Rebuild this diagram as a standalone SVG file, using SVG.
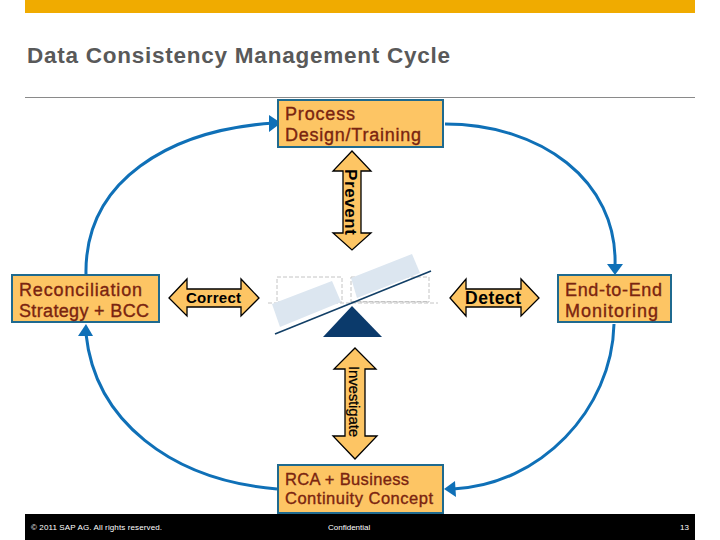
<svg xmlns="http://www.w3.org/2000/svg" width="720" height="540" viewBox="0 0 720 540">
<style>
text{font-family:"Liberation Sans",Arial,sans-serif}
.box{fill:#fdc564;stroke:#1f6a8f;stroke-width:2}
.lbl{font-size:18px;fill:#7a2410;stroke:#7a2410;stroke-width:.35}
.arr{fill:#fdc564;stroke:#000;stroke-width:1.3}
.al{font-weight:700;fill:#000}
.con{fill:none;stroke:#0f70b7;stroke-width:3}
.head{fill:#0f70b7}
.foot{font-size:8px;fill:#fff}
.dash{fill:none;stroke:#c4c4c4;stroke-width:1;stroke-dasharray:4 2}
</style>
<rect x="25" y="0" width="670" height="13" fill="#f0ab00"/>
<text x="27" y="63" font-weight="700" fill="#595959" style="font-size:22.500px" textLength="423">Data Consistency Management Cycle</text>
<rect x="25" y="97" width="670" height="1" fill="#8a8a8a"/>
<g id="connectors">
<path class="con" d="M274 123C170 130 84 180 86 275"/>
<path class="head" d="M269 115L281 123L269 132Z"/>
<path class="con" d="M445 124C540 124 618 180 615 266"/>
<path class="head" d="M607 264L623 264L615 275Z"/>
<path class="con" d="M614 324C612 410 540 485 453 489"/>
<path class="head" d="M455 481L444 489L456 497Z"/>
<path class="con" d="M277 489C170 480 95 420 86 334"/>
<path class="head" d="M78 336L86 324L93 336Z"/>
</g>
<g id="balance">
<rect x="277" y="277" width="65" height="25" class="dash"/>
<rect x="351" y="277" width="78" height="25" class="dash"/>
<path d="M268 303H438" class="dash"/>
<path d="M351 301.500H429" class="dash"/>
<path d="M272 304L332 281L341 302L280 327Z" fill="#dce6f0"/>
<path d="M351 278L412 254L420 273L357 298Z" fill="#dce6f0"/>
<path d="M275 334L431 271" stroke="#123f66" stroke-width="1.6" fill="none"/>
<path d="M352 306L382 337H323Z" fill="#0b3a6b"/>
</g>
<g id="process">
<rect class="box" x="278" y="100" width="165" height="47"/>
<text class="lbl" x="285" y="120" textLength="70">Process</text>
<text class="lbl" x="285" y="141" textLength="136">Design/Training</text>
</g>
<g id="reconciliation">
<rect class="box" x="12" y="275" width="147" height="47"/>
<text class="lbl" x="19" y="296" textLength="123">Reconciliation</text>
<text class="lbl" x="19" y="317" textLength="130">Strategy + BCC</text>
</g>
<g id="monitoring">
<rect class="box" x="558" y="275" width="113" height="47"/>
<text class="lbl" x="565" y="296" textLength="97">End-to-End</text>
<text class="lbl" x="565" y="317" textLength="93">Monitoring</text>
</g>
<g id="rca">
<rect class="box" x="278" y="465" width="165" height="48"/>
<text class="lbl" x="285" y="485" textLength="124" style="font-size:16.500px">RCA + Business</text>
<text class="lbl" x="285" y="504" textLength="148" style="font-size:16.500px">Continuity Concept</text>
</g>
<g id="prevent">
<path class="arr" d="M352 151L371 171H361V233H371L352 250L333 233H343V171H333Z"/>
<text class="al" transform="translate(345 169) rotate(90)" style="font-size:17px" textLength="66">Prevent</text>
</g>
<g id="investigate">
<path class="arr" d="M355 348L376 369H365V436H377L355 459L333 436H345V369H334Z"/>
<text class="al" transform="translate(349 366) rotate(90)" style="font-size:15px;font-weight:400;stroke:#000;stroke-width:.25" textLength="71">Investigate</text>
</g>
<g id="correct">
<path class="arr" d="M169 298L187 279V289H241V279L259 298L241 316V307H187V316Z"/>
<text class="al" x="186" y="303" style="font-size:15px" textLength="55">Correct</text>
</g>
<g id="detect">
<path class="arr" d="M450 298L466 279V289H521V279L539 298L521 316V307H466V316Z"/>
<text class="al" x="465" y="304" style="font-size:17.500px" textLength="56">Detect</text>
</g>
<g id="footer">
<rect x="25" y="514" width="670" height="26" fill="#000"/>
<text class="foot" x="31" y="530" textLength="131">© 2011 SAP AG. All rights reserved.</text>
<text class="foot" x="328" y="530">Confidential</text>
<text class="foot" x="680" y="530">13</text>
</g>
</svg>
